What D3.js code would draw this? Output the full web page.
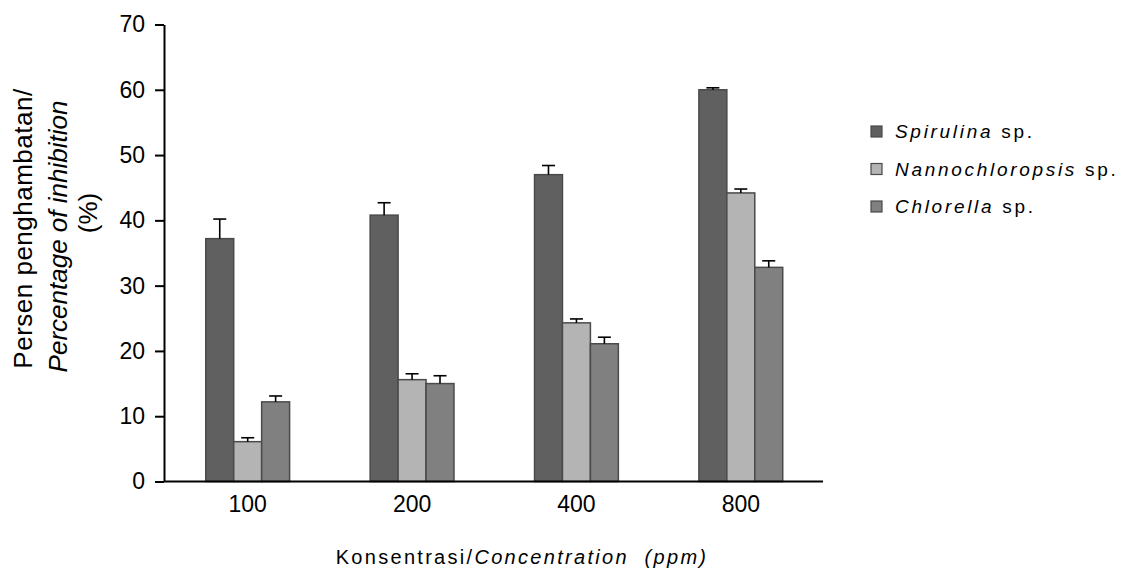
<!DOCTYPE html>
<html>
<head>
<meta charset="utf-8">
<script src="https://cdn.jsdelivr.net/npm/d3@7"></script>
<style>
  body { margin: 0; background: #fff; }
  svg { display: block; font-family: "Liberation Sans", Arial, sans-serif; }
</style>
</head>
<body>
<svg id="chart" width="1121" height="570"></svg>
<script>
const concentrations = ['100', '200', '400', '800'];
const seriesNames = ['Spirulina', 'Nannochloropsis', 'Chlorella'];
const spirulina = [37.2, 40.8, 47.0, 60.0];
const nannochloropsis = [6.1, 15.6, 24.3, 44.2];
const chlorella = [12.2, 15.0, 21.1, 32.8];
const spirulinaErr = [3.0, 1.9, 1.4, 0.3];
const nannochloropsisErr = [0.6, 0.9, 0.6, 0.6];
const chlorellaErr = [0.9, 1.2, 1.0, 1.0];
const yTicks = [0, 10, 20, 30, 40, 50, 60, 70];

const fills = ['#606060', '#b4b4b4', '#808080'];
const values = [spirulina, nannochloropsis, chlorella];
const errors = [spirulinaErr, nannochloropsisErr, chlorellaErr];

const svg = d3.select('#chart');

const x0 = d3.scaleBand()
  .domain(concentrations)
  .range([165.5, 823])
  .paddingInner(0.49)
  .paddingOuter(0.245);

const x1 = d3.scaleBand()
  .domain(seriesNames)
  .range([0, x0.bandwidth()]);

const y = d3.scaleLinear()
  .domain([0, 70])
  .range([481.5, 24.5]);

const rows = [];
concentrations.forEach((c, i) => {
  seriesNames.forEach((s, j) => {
    rows.push({ conc: c, name: s, value: values[j][i], err: errors[j][i], fill: fills[j] });
  });
});

// bars
const bars = svg.append('g');
bars.selectAll('rect')
  .data(rows)
  .enter()
  .append('rect')
  .attr('x', d => x0(d.conc) + x1(d.name))
  .attr('y', d => y(d.value))
  .attr('width', x1.bandwidth())
  .attr('height', d => y(0) - y(d.value))
  .attr('fill', d => d.fill)
  .attr('stroke', '#4a4a4a')
  .attr('stroke-width', 1.5);

// error bars, upper half only
const errs = svg.append('g').attr('stroke', '#000').attr('stroke-width', 1.6);
rows.forEach(d => {
  const cx = x0(d.conc) + x1(d.name) + x1.bandwidth() / 2;
  errs.append('line')
    .attr('x1', cx).attr('x2', cx)
    .attr('y1', y(d.value)).attr('y2', y(d.value + d.err));
  errs.append('line')
    .attr('x1', cx - 6.5).attr('x2', cx + 6.5)
    .attr('y1', y(d.value + d.err)).attr('y2', y(d.value + d.err));
});

// y axis
const yAxis = svg.append('g')
  .attr('transform', 'translate(164,0)')
  .call(d3.axisLeft(y).tickValues(yTicks).tickSize(9).tickPadding(10).tickSizeOuter(0));
yAxis.select('.domain').attr('stroke-width', 2);
yAxis.selectAll('.tick line').attr('stroke-width', 2);
yAxis.selectAll('.tick text')
  .attr('font-size', 23)
  .attr('font-family', '"Liberation Sans", Arial, sans-serif')
  .attr('fill', '#000');

// x axis
const xAxis = svg.append('g')
  .attr('transform', `translate(0,${y(0)})`)
  .call(d3.axisBottom(x0).tickSize(0).tickPadding(14).tickSizeOuter(0));
xAxis.select('.domain').attr('stroke-width', 2).attr('d', 'M164,0H823');
xAxis.selectAll('.tick text')
  .attr('font-size', 23)
  .attr('font-family', '"Liberation Sans", Arial, sans-serif')
  .attr('fill', '#000');

// x axis title
const xt = svg.append('text')
  .attr('x', 522)
  .attr('y', 564)
  .attr('text-anchor', 'middle')
  .attr('font-size', 20)
  .attr('letter-spacing', 2.3)
  .style('white-space', 'pre');
xt.append('tspan').text('Konsentrasi/');
xt.append('tspan').attr('font-style', 'italic').text('Concentration  (ppm)');

// y axis title
const yt = svg.append('g');
yt.append('text')
  .attr('transform', 'translate(31.5,228.5) rotate(-90)')
  .attr('text-anchor', 'middle')
  .attr('font-size', 26)
  .attr('letter-spacing', 0.5)
  .text('Persen penghambatan/');
yt.append('text')
  .attr('transform', 'translate(66.5,236.5) rotate(-90)')
  .attr('text-anchor', 'middle')
  .attr('font-size', 26)
  .attr('font-style', 'italic')
  .text('Percentage of inhibition');
yt.append('text')
  .attr('transform', 'translate(97,213) rotate(-90)')
  .attr('text-anchor', 'middle')
  .attr('font-size', 26)
  .text('(%)');

// legend
const legend = svg.append('g');
const legendRows = legend.selectAll('g')
  .data(seriesNames)
  .enter()
  .append('g')
  .attr('transform', (d, i) => `translate(871,${126 + i * 37.5})`);
legendRows.append('rect')
  .attr('width', 11)
  .attr('height', 11)
  .attr('fill', (d, i) => fills[i])
  .attr('stroke', '#4a4a4a')
  .attr('stroke-width', 1.2);
const lt = legendRows.append('text')
  .attr('x', 24)
  .attr('y', 12)
  .attr('font-size', 19)
  .attr('letter-spacing', 2.7)
  .style('white-space', 'pre');
lt.append('tspan').attr('font-style', 'italic').text(d => d);
lt.append('tspan').text(' sp.');
</script>
</body>
</html>
